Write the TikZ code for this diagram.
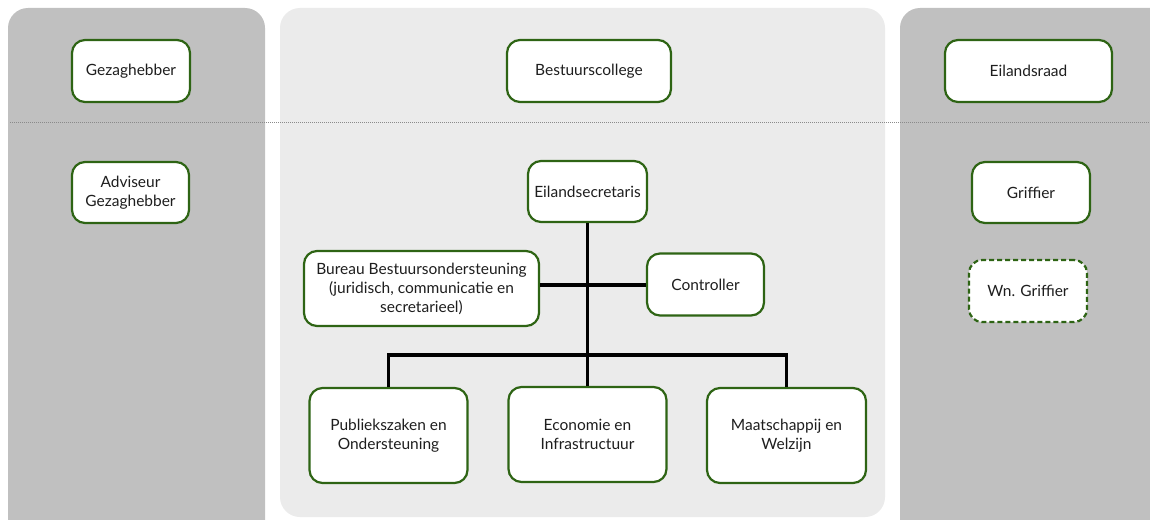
\documentclass[tikz,border=0pt]{standalone}
\usepackage{fontspec}
\setmainfont{Lato}
\definecolor{panelDark}{HTML}{C0C0C0}
\definecolor{panelLight}{HTML}{EBEBEB}
\definecolor{boxGreen}{HTML}{2E6414}
\definecolor{txt}{HTML}{1E1E1E}
\definecolor{dotgrey}{HTML}{8A8A8A}
\tikzset{
  orgbox/.style={draw=boxGreen, line width=2.2pt, fill=white, rounded corners=13pt,
    align=center, inner sep=2pt, text=txt,
    font=\fontsize{15.5}{19}\selectfont},
  conn/.style={draw=black, line width=3.4pt},
  panel/.style={rounded corners=20pt}
}
\begin{document}
\begin{tikzpicture}[x=1pt,y=-1pt]
\useasboundingbox (0,0) rectangle (1150,519);
\clip (0,0) rectangle (1150,519);
\fill[white] (0,0) rectangle (1150,519);
% panels
\fill[panelDark, panel] (8,8) rectangle (265,560);
\fill[panelLight, panel] (280,8) rectangle (885,517);
\fill[panelDark, panel] (900,8) rectangle (1190,560);
% dotted separator
\draw[dotgrey, line width=0.9pt, dash pattern=on 1pt off 1pt] (10,122) -- (1150,122);
% top row
\node[orgbox, minimum width=118pt, minimum height=62pt] (gez) at (131,71) {Gezaghebber};
\node[orgbox, minimum width=164pt, minimum height=62pt] (best) at (589,71) {Bestuurscollege};
\node[orgbox, minimum width=167pt, minimum height=62pt] (eil) at (1028.5,71) {Eilandsraad};
% side nodes
\node[orgbox, minimum width=117pt, minimum height=61pt] (adv) at (130.5,192.5) {Adviseur\\Gezaghebber};
\node[orgbox, minimum width=118pt, minimum height=61pt] (grif) at (1031,192.5) {Griffier};
\node[orgbox, dashed, dash pattern=on 5pt off 3pt, minimum width=118pt, minimum height=62pt] (wn) at (1028,291) {Wn. Griffier};
% middle hierarchy
\node[orgbox, minimum width=119pt, minimum height=61pt] (sec) at (587.5,191.5) {Eilandsecretaris};
\node[orgbox, minimum width=235pt, minimum height=75pt] (bur) at (421.5,288.5) {Bureau Bestuursondersteuning\\(juridisch, communicatie en\\secretarieel)};
\node[orgbox, minimum width=117pt, minimum height=62pt] (ctrl) at (705.5,284.5) {Controller};
\node[orgbox, minimum width=158pt, minimum height=95pt] (pub) at (388.5,435.5) {Publiekszaken en\\Ondersteuning};
\node[orgbox, minimum width=158pt, minimum height=95pt] (eco) at (587.5,434.5) {Economie en\\Infrastructuur};
\node[orgbox, minimum width=159pt, minimum height=95pt] (maat) at (786.5,435.5) {Maatschappij en\\Welzijn};
% connectors
\coordinate (jc) at (587.5,285);
\coordinate (bar) at (587.5,355);
\draw[conn] (sec.south) -- (eco.north);
\draw[conn] (bur.east |- jc) -- (ctrl.west |- jc);
\draw[conn] (pub.north) |- (bar) -| (maat.north);
\end{tikzpicture}
\end{document}
